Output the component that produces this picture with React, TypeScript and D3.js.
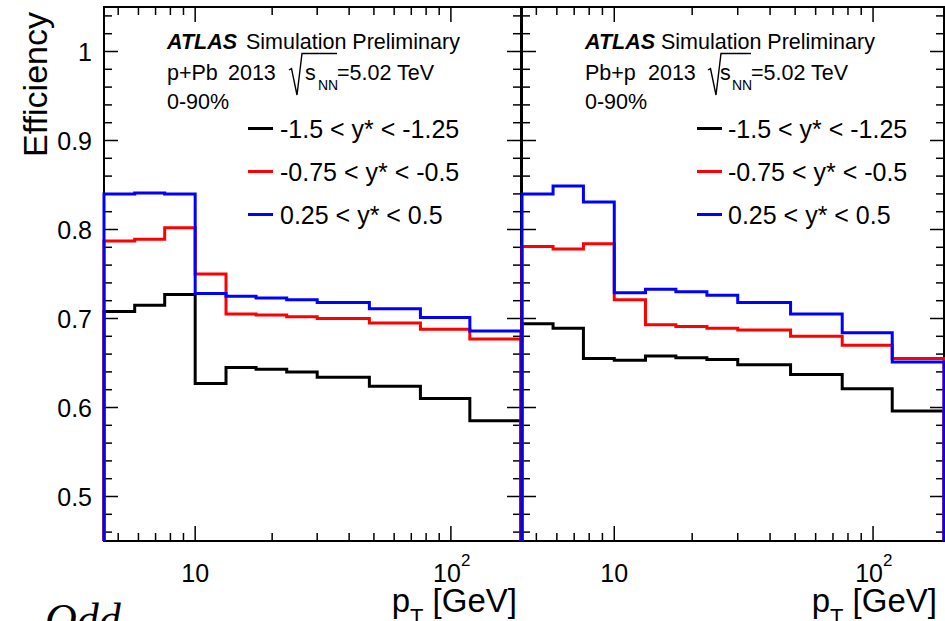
import React from 'react';
import * as d3 from 'd3';

// pT bin edges [GeV], shared by both collision systems
const binEdges = [4.4, 5.8, 7.6, 10, 13.2, 17.3, 22.8, 30, 48, 76, 118.6, 188];

// Rapidity intervals (legend labels) and their line colours
const rapidityLabels = ['-1.5 < y* < -1.25', '-0.75 < y* < -0.5', '0.25 < y* < 0.5'];
const rapidityColors = ['#000000', '#ff0000', '#0000ff'];

// p+Pb efficiency per pT bin
const pPbBackward = [0.708, 0.715, 0.727, 0.627, 0.645, 0.643, 0.640, 0.634, 0.624, 0.610, 0.585];
const pPbMid = [0.787, 0.789, 0.802, 0.750, 0.705, 0.704, 0.702, 0.700, 0.695, 0.688, 0.677];
const pPbForward = [0.840, 0.841, 0.840, 0.728, 0.725, 0.723, 0.721, 0.718, 0.711, 0.701, 0.686];

// Pb+p efficiency per pT bin
const PbpBackward = [0.694, 0.689, 0.655, 0.653, 0.658, 0.656, 0.654, 0.648, 0.637, 0.621, 0.596];
const PbpMid = [0.781, 0.778, 0.784, 0.721, 0.693, 0.691, 0.689, 0.687, 0.680, 0.670, 0.655];
const PbpForward = [0.840, 0.849, 0.831, 0.729, 0.733, 0.730, 0.726, 0.718, 0.705, 0.684, 0.651];

// Axis ranges and ticks
const xDomain = [4.4, 188];
const yDomain = [0.45, 1.05];
const yMajorTicks = [0.5, 0.6, 0.7, 0.8, 0.9, 1.0];
const yTickLabels = ['0.5', '0.6', '0.7', '0.8', '0.9', '1'];
const xMajorTicks = [10, 100];
const xMinorTicks = [5, 6, 7, 8, 9, 20, 30, 40, 50, 60, 70, 80, 90];

const systemLabels = ['p+Pb  2013', 'Pb+p  2013'];

const W = 945;
const H = 621;
const TOP = 7;
const BOTTOM = 541;

const FONT = '"Liberation Sans", Arial, Helvetica, sans-serif';

type PanelLayout = {
  x0: number;
  x1: number;
  yearX: number;
  rootX: number;
  rootW: number;
  sX: number;
  nnX: number;
  simX: number;
  legLineX: number;
  legTextX: number;
  titleEnd: number;
};

const panels = [
  {
    key: 'pPb',
    series: [pPbBackward, pPbMid, pPbForward],
    system: systemLabels[0],
    showYLabels: true,
    layout: {
      x0: 104, x1: 521, yearX: 124, rootX: 186, rootW: 47, sX: 15, nnX: 28, simX: 142,
      legLineX: 144, legTextX: 176, titleEnd: 517,
    } as PanelLayout,
  },
  {
    key: 'Pbp',
    series: [PbpBackward, PbpMid, PbpForward],
    system: systemLabels[1],
    showYLabels: false,
    layout: {
      x0: 522, x1: 944, yearX: 126, rootX: 187, rootW: 42, sX: 11, nnX: 23, simX: 139,
      legLineX: 175, legTextX: 206, titleEnd: 937,
    } as PanelLayout,
  },
];

function Panel({ p }: { p: (typeof panels)[number] }) {
  const L = p.layout;
  const x = d3.scaleLog().domain(xDomain).range([L.x0, L.x1]);
  const y = d3.scaleLinear().domain(yDomain).range([BOTTOM, TOP]);

  const yMinor = d3.range(0.46, 1.05, 0.02).map((v) => Math.round(v * 100) / 100);

  const histLine = d3
    .line<[number, number]>()
    .x((d) => x(d[0]))
    .y((d) => y(d[1]));

  // step outline of a histogram, closed down to the lower frame edge at both ends
  const histPoints = (vals: number[]): [number, number][] => {
    const pts: [number, number][] = [[binEdges[0], yDomain[0]]];
    vals.forEach((v, i) => {
      pts.push([binEdges[i], v]);
      pts.push([binEdges[i + 1], v]);
    });
    pts.push([binEdges[binEdges.length - 1], yDomain[0]]);
    return pts;
  };

  const clipId = `clip-${p.key}`;
  const legendRows = [128.5, 171.5, 214.5];
  const rx = L.x0 + L.rootX;
  const [sysName, sysYear] = p.system.split('  ');

  return (
    <g>
      <defs>
        <clipPath id={clipId}>
          <rect x={L.x0 - 2} y={TOP} width={L.x1 - L.x0 + 4} height={BOTTOM - TOP} />
        </clipPath>
      </defs>

      {/* frame */}
      <rect x={L.x0} y={TOP} width={L.x1 - L.x0} height={BOTTOM - TOP} fill="none" stroke="#000" strokeWidth={2} />

      {/* y ticks, left and right */}
      {yMinor.map((v) => {
        const major = yMajorTicks.some((m) => Math.abs(m - v) < 1e-6);
        const len = major ? 14 : 8;
        return (
          <g key={`yt${v}`} stroke="#000" strokeWidth={1.5}>
            <line x1={L.x0} x2={L.x0 + len} y1={y(v)} y2={y(v)} />
            <line x1={L.x1} x2={L.x1 - len} y1={y(v)} y2={y(v)} />
          </g>
        );
      })}

      {/* x ticks, bottom and top */}
      {xMajorTicks.concat(xMinorTicks).map((v) => {
        const major = xMajorTicks.includes(v);
        const len = major ? 15 : 8;
        return (
          <g key={`xt${v}`} stroke="#000" strokeWidth={1.5}>
            <line x1={x(v)} x2={x(v)} y1={BOTTOM} y2={BOTTOM - len} />
            <line x1={x(v)} x2={x(v)} y1={TOP} y2={TOP + len} />
          </g>
        );
      })}

      {/* y tick labels */}
      {p.showYLabels &&
        yMajorTicks.map((v, i) => (
          <text key={`yl${v}`} x={92} y={y(v) + 9} textAnchor="end" fontSize={25} fontFamily={FONT}>
            {yTickLabels[i]}
          </text>
        ))}

      {/* x tick labels */}
      <text x={x(10)} y={582} textAnchor="middle" fontSize={25} fontFamily={FONT}>10</text>
      <text x={x(100) - 4} y={582} textAnchor="middle" fontSize={25} fontFamily={FONT}>10</text>
      <text x={x(100) + 10} y={566} textAnchor="start" fontSize={17} fontFamily={FONT}>2</text>

      {/* x axis title */}
      <text x={L.titleEnd} y={612} textAnchor="end" fontSize={33} fontFamily={FONT}>
        p<tspan fontSize={22} dy={12}>T</tspan>
        <tspan dy={-12}> [GeV]</tspan>
      </text>

      {/* histograms */}
      <g clipPath={`url(#${clipId})`}>
        {p.series.map((vals, i) => (
          <path key={`h${i}`} d={histLine(histPoints(vals)) || ''} fill="none" stroke={rapidityColors[i]} strokeWidth={3} />
        ))}
      </g>

      {/* header */}
      <g fontFamily={FONT} fontSize={21.5}>
        <text x={L.x0 + 63} y={48.5} fontWeight="bold" fontStyle="italic">ATLAS</text>
        <text x={L.x0 + L.simX} y={48.5}>Simulation Preliminary</text>
        <text x={L.x0 + 63} y={80}>{sysName}</text>
        <text x={L.x0 + L.yearX} y={80}>{sysYear}</text>
        <path
          d={`M${rx - 1},70 L${rx + 1.5},68.5 L${rx + 7},95 L${rx + 12},53.5 L${rx + L.rootW},53.5`}
          fill="none"
          stroke="#000"
          strokeWidth={1.4}
        />
        <text x={rx + L.sX} y={80}>s</text>
        <text x={rx + L.nnX} y={90} fontSize={14}>NN</text>
        <text x={rx + L.rootW} y={80}>=5.02 TeV</text>
        <text x={L.x0 + 63} y={108.5}>0-90%</text>
      </g>

      {/* legend */}
      {rapidityLabels.map((lab, i) => (
        <g key={`lg${i}`}>
          <line
            x1={L.x0 + L.legLineX}
            x2={L.x0 + L.legLineX + 25}
            y1={legendRows[i]}
            y2={legendRows[i]}
            stroke={rapidityColors[i]}
            strokeWidth={3}
          />
          <text x={L.x0 + L.legTextX} y={legendRows[i] + 9} fontSize={25} fontFamily={FONT}>
            {lab}
          </text>
        </g>
      ))}
    </g>
  );
}

export default function App() {
  return (
    <svg
      width={W}
      height={H}
      viewBox={`0 0 ${W} ${H}`}
      style={{ position: 'absolute', left: 0, top: 0, background: '#fff' }}
    >
      <rect width={W} height={H} fill="#fff" />
      <text
        transform="translate(47,12) rotate(-90)"
        textAnchor="end"
        fontSize={34}
        fontFamily={FONT}
      >
        Efficiency
      </text>
      {panels.map((p) => (
        <Panel key={p.key} p={p} />
      ))}
      <text x={45} y={634} fontSize={44} fontStyle="italic" fontFamily='"Liberation Serif", "DejaVu Serif", serif'>
        Odd
      </text>
    </svg>
  );
}
